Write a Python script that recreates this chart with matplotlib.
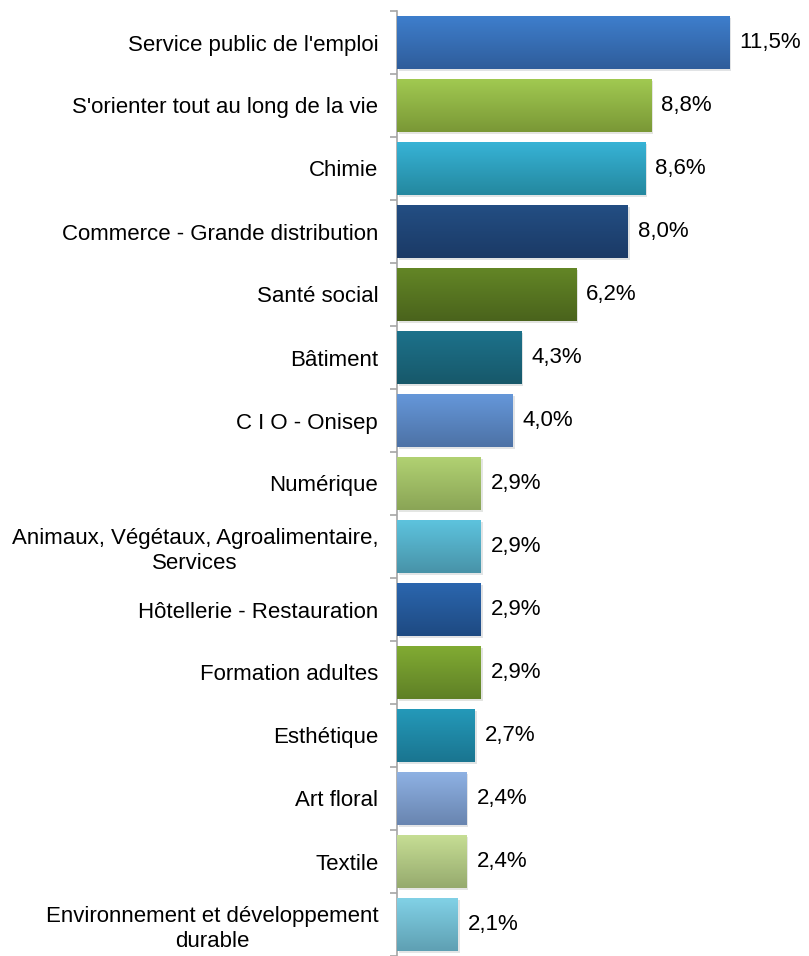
import matplotlib.pyplot as plt
import matplotlib.patheffects as pe
from matplotlib.colors import to_rgb
import numpy as np

categories = [
    "Service public de l'emploi",
    "S'orienter tout au long de la vie",
    "Chimie",
    "Commerce - Grande distribution",
    "Santé social",
    "Bâtiment",
    "C I O - Onisep",
    "Numérique",
    "Animaux, Végétaux, Agroalimentaire,\nServices",
    "Hôtellerie - Restauration",
    "Formation adultes",
    "Esthétique",
    "Art floral",
    "Textile",
    "Environnement et développement\ndurable",
]
values = [11.5, 8.8, 8.6, 8.0, 6.2, 4.3, 4.0, 2.9, 2.9, 2.9, 2.9, 2.7, 2.4, 2.4, 2.1]

# gradient colours (top, bottom) per bar
colors = [
    ("#3E7ECC", "#2F5D9B"),
    ("#A1C951", "#7A9836"),
    ("#37B3D6", "#24889F"),
    ("#234E83", "#1B3A66"),
    ("#638626", "#4A631C"),
    ("#1D728B", "#17586A"),
    ("#6597D9", "#4D72A6"),
    ("#B1D172", "#8AA556"),
    ("#5DC3DE", "#4893A8"),
    ("#2B66AE", "#1E4A82"),
    ("#81AB33", "#5F8026"),
    ("#2499B9", "#1A7590"),
    ("#8EB1E3", "#6985B0"),
    ("#C6DE94", "#96AA6E"),
    ("#81D1E6", "#5FA0B3"),
]

plt.rcParams['font.family'] = ['Liberation Sans', 'DejaVu Sans']

fig = plt.figure(figsize=(8.09, 9.56), dpi=100)
ax = fig.add_axes([397 / 809, 0.0, 1 - 397 / 809, 1 - 11 / 956])

h = 0.84
n = len(values)
y = np.arange(n)
bars = ax.barh(y, values, height=h, color=[c[1] for c in colors], zorder=2,
               path_effects=[pe.SimplePatchShadow(offset=(1.5, -1.5), alpha=0.12), pe.Normal()])

for i, (bar, v) in enumerate(zip(bars, values)):
    top, bot = np.array(to_rgb(colors[i][0])), np.array(to_rgb(colors[i][1]))
    t = np.linspace(0, 1, 64)[:, None, None]
    grad = top * (1 - t) + bot * t
    im = ax.imshow(grad, extent=(0, v, i + h / 2, i - h / 2), origin='upper',
                   aspect='auto', interpolation='bilinear', zorder=3)
    im.set_clip_path(bar)
    ax.text(v + 0.35, i, f"{v:.1f}%".replace('.', ','), va='center', ha='left',
            fontsize=16, color='#000000')

ax.set_xlim(0, 14.27)
ax.set_ylim(n - 0.5, -0.5)

ax.set_yticks(y)
ax.set_yticklabels(categories, fontsize=16, multialignment='center', linespacing=1.25)
ax.tick_params(axis='y', which='major', length=0, pad=13.5)
ax.set_yticks(np.arange(n + 1) - 0.5, minor=True)
ax.tick_params(axis='y', which='minor', length=5, width=1.2, color='#A6A6A6')
ax.set_xticks([])

for s in ['top', 'right', 'bottom']:
    ax.spines[s].set_visible(False)
ax.spines['left'].set_color('#A6A6A6')
ax.spines['left'].set_linewidth(1.2)

fig.savefig('out.png', dpi=100)
